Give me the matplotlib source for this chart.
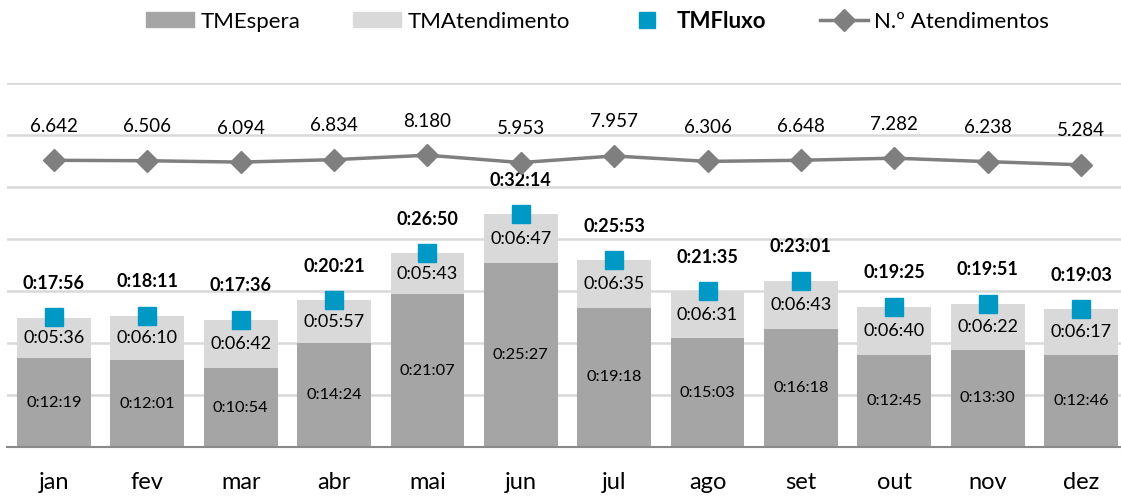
import matplotlib.pyplot as plt
from matplotlib.lines import Line2D
from matplotlib.patches import Patch

plt.rcParams['font.family'] = ['Lato', 'DejaVu Sans']

meses = ['jan', 'fev', 'mar', 'abr', 'mai', 'jun', 'jul', 'ago', 'set', 'out', 'nov', 'dez']
tm_espera = ['0:12:19', '0:12:01', '0:10:54', '0:14:24', '0:21:07', '0:25:27',
             '0:19:18', '0:15:03', '0:16:18', '0:12:45', '0:13:30', '0:12:46']
tm_atend = ['0:05:36', '0:06:10', '0:06:42', '0:05:57', '0:05:43', '0:06:47',
            '0:06:35', '0:06:31', '0:06:43', '0:06:40', '0:06:22', '0:06:17']
tm_fluxo = ['0:17:56', '0:18:11', '0:17:36', '0:20:21', '0:26:50', '0:32:14',
            '0:25:53', '0:21:35', '0:23:01', '0:19:25', '0:19:51', '0:19:03']
n_atend = [6642, 6506, 6094, 6834, 8180, 5953, 7957, 6306, 6648, 7282, 6238, 5284]


def seg(t):
    h, m, s = t.split(':')
    return int(h) * 3600 + int(m) * 60 + int(s)


esp = [seg(t) for t in tm_espera]
atd = [seg(t) for t in tm_atend]
flx = [seg(t) for t in tm_fluxo]
x = list(range(len(meses)))

c_esp = '#A5A5A5'
c_atd = '#D9D9D9'
c_flx = '#0099C6'
c_lin = '#7F7F7F'

fig = plt.figure(figsize=(11.21, 4.99), dpi=100)
ax = fig.add_axes([7.3 / 1121, 52 / 499, 1120.4 / 1121, 364 / 499])
ax2 = ax.twinx()

ax.bar(x, esp, width=0.79, color=c_esp, zorder=2)
ax.bar(x, atd, bottom=esp, width=0.79, color=c_atd, zorder=2)
ax.plot(x, flx, ls='none', marker='s', ms=13.5, color=c_flx, zorder=4)

for i in x:
    ax.text(i, esp[i] / 2, tm_espera[i], ha='center', va='center', fontsize=11.8, zorder=5)
    ax.text(i, esp[i] + atd[i] / 2, tm_atend[i], ha='center', va='center', fontsize=13, zorder=5)
    ax.annotate(tm_fluxo[i], (i, flx[i]), xytext=(0, 24.5), textcoords='offset points',
                ha='center', va='center', fontsize=13, fontweight='bold', zorder=5)

ax.set_xlim(-0.5, 11.5)
ax.set_ylim(0, 3024)
ax.set_yticks(range(0, 3025, 432))
ax.grid(axis='y', color='#D9D9D9', lw=1.8, zorder=0)
ax.set_axisbelow(True)
for s in ['top', 'left', 'right']:
    ax.spines[s].set_visible(False)
ax.spines['bottom'].set_color('#898989')
ax.spines['bottom'].set_linewidth(1.5)
ax.spines['bottom'].set_zorder(3)
ax.set_xticks(x)
ax.set_xticklabels(meses)
ax.tick_params(axis='y', left=False, right=False, labelleft=False, labelright=False)
ax.tick_params(axis='x', length=0, labelsize=17, pad=18)

ax2.set_ylim(-80000, 30000)
ax2.plot(x, n_atend, color=c_lin, lw=2.5, marker='D', ms=11)
for i in x:
    ax2.annotate(f'{n_atend[i]:,}'.replace(',', '.'), (i, n_atend[i]), xytext=(0, 24.5),
                 textcoords='offset points', ha='center', va='center', fontsize=13.5)
ax2.axis('off')

handles = [Patch(color=c_esp), Patch(color=c_atd),
           Line2D([], [], ls='none', marker='s', ms=11, color=c_flx),
           Line2D([], [], color=c_lin, lw=2.5, marker='D', ms=11)]
labels = ['TMEspera', 'TMAtendimento', 'TMFluxo', 'N.º Atendimentos']
leg = fig.legend(handles, labels, loc='center', bbox_to_anchor=(0.533, 1 - 21 / 499), ncol=4,
                 frameon=False, fontsize=16, handlelength=2.16, handleheight=0.68,
                 handletextpad=0.27, columnspacing=2.4)
leg.get_texts()[2].set_fontweight('bold')

fig.savefig('out.png', dpi=100)
